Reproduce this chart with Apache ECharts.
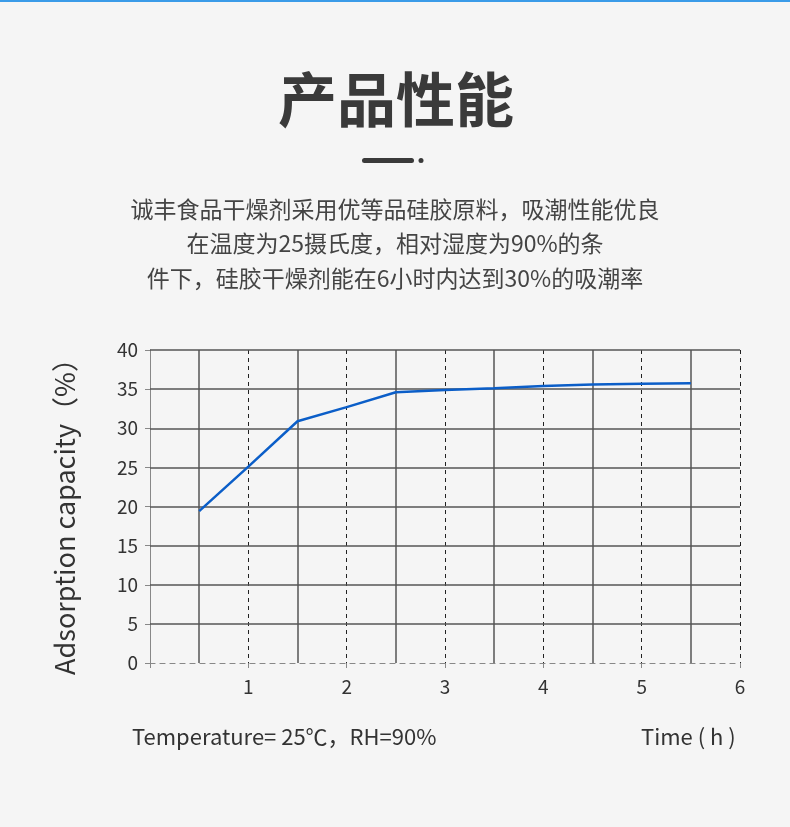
<!DOCTYPE html>
<html><head><meta charset="utf-8">
<script src="https://cdn.jsdelivr.net/npm/echarts@6/dist/echarts.min.js"></script>
<style>html,body{margin:0;padding:0;background:#f5f5f5}#c{width:790px;height:827px}</style>
</head><body><div id="c"></div>
<script>
const times = [0.5,1,1.5,2,2.5,3,3.5,4,4.5,5,5.5];
const capacity = [19.4,25.1,30.9,32.7,34.6,34.9,35.1,35.4,35.6,35.7,35.75];
const solidX = [0.5,1.5,2.5,3.5,4.5,5.5];
const solidY = [5,10,15,20,25,30,35,40];
const xLabels = ['1','2','3','4','5','6'];
const title = '产品性能';
const desc = ['诚丰食品干燥剂采用优等品硅胶原料，吸潮性能优良','在温度为25摄氏度，相对湿度为90%的条','件下，硅胶干燥剂能在6小时内达到30%的吸潮率'];
const font = '"Noto Sans CJK SC","Noto Sans",sans-serif';
const chart = echarts.init(document.getElementById('c'));
const gc = '#555';
chart.setOption({
  backgroundColor:'#f5f5f5',
  animation:false,
  grid:{left:150,right:50,top:350,bottom:164},
  xAxis:{type:'value',min:0,max:6,interval:1,
    axisLine:{show:true,lineStyle:{color:'#888',type:[5,5],width:1.2}},
    axisTick:{show:true,length:5,lineStyle:{color:'#888'}},
    axisLabel:{color:'#333',fontSize:19,margin:14,fontFamily:font,formatter:v=>v===0?'':xLabels[v-1]},
    splitLine:{show:true,lineStyle:{color:'#222',type:[4,4],width:1}}},
  yAxis:{type:'value',min:0,max:40,interval:5,
    axisLine:{show:true,lineStyle:{color:'#888',width:1}},
    axisTick:{show:true,length:5,lineStyle:{color:'#888'}},
    axisLabel:{color:'#333',fontSize:19,margin:12,fontFamily:font},
    splitLine:{show:false}},
  series:[{type:'line',data:times.map((t,i)=>[t,capacity[i]]),symbol:'none',
    lineStyle:{color:'#0b5ec8',width:2.5},z:5,
    markLine:{silent:true,symbol:'none',label:{show:false},lineStyle:{color:gc,type:'solid',width:1.5},
      data:solidX.map(x=>({xAxis:x})).concat(solidY.map(y=>({yAxis:y})))}}],
  graphic:[
    {type:'rect',shape:{x:0,y:0,width:790,height:2},style:{fill:'#3a9be8'}},
    {type:'text',x:396,y:100,style:{text:title,font:'bold 59px '+font,fill:'#3a3a3a',align:'center',verticalAlign:'middle'}},
    {type:'rect',shape:{x:362,y:158,width:52,height:5,r:2.5},style:{fill:'#3a3a3a'}},
    {type:'circle',shape:{cx:421,cy:160.5,r:2.5},style:{fill:'#3a3a3a'}},
    ...desc.map((t,i)=>({type:'text',x:395,y:209+i*34.5,style:{text:t,font:'23px '+font,fill:'#444',align:'center',verticalAlign:'middle'}})),
    {type:'text',x:65,y:510,rotation:Math.PI/2,style:{text:'Adsorption capacity（%）',font:'27px '+font,fill:'#333',align:'center',verticalAlign:'middle'}},
    {type:'text',x:132,y:737,style:{text:'Temperature= 25℃，RH=90%',font:'22px '+font,fill:'#333',verticalAlign:'middle'}},
    {type:'text',x:641,y:737,style:{text:'Time ( h )',font:'22px '+font,fill:'#333',verticalAlign:'middle'}}
  ]
});
</script></body></html>
